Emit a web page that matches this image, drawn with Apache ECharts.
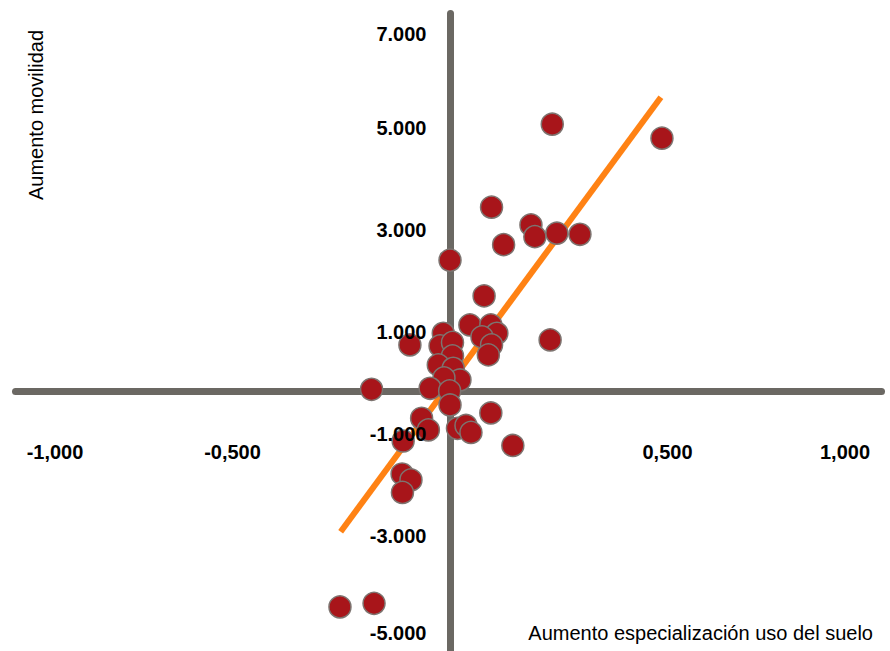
<!DOCTYPE html>
<html>
<head>
<meta charset="utf-8">
<script src="https://cdn.jsdelivr.net/npm/echarts@6/dist/echarts.min.js"></script>
<style>
  html, body { margin: 0; padding: 0; background: #ffffff; }
  #chart { width: 890px; height: 651px; }
</style>
</head>
<body>
<div id="chart"></div>
<script>
// Data
const xValues = [0.288, 0.597, 0.117, 0.228, 0.239, 0.301, 0.366, 0.151, 0.000, 0.096,
                 0.056, 0.115, 0.132, 0.090, 0.117, 0.108, -0.113, 0.282, -0.019, -0.028,
                 0.007, 0.007, -0.033, 0.009, 0.028, -0.017, -0.056, -0.001, 0.000, -0.221,
                 0.115, -0.080, -0.061, 0.021, 0.045, 0.059, 0.177, -0.132, -0.135, -0.110,
                 -0.134, -0.310, -0.214];
const yValues = [5.239, 4.965, 3.612, 3.265, 3.035, 3.102, 3.082, 2.878, 2.573, 1.873,
                 1.304, 1.304, 1.141, 1.069, 0.912, 0.716, 0.912, 1.010, 1.141, 0.892,
                 0.961, 0.696, 0.520, 0.455, 0.225, 0.265, 0.063, 0.010, -0.265, 0.043,
                 -0.422, -0.525, -0.755, -0.722, -0.667, -0.804, -1.059, -0.971, -1.618, -1.735,
                 -1.980, -4.225, -4.153];
const trendX = [-0.308, 0.594];
const trendY = [-2.749, 5.769];
const xTickValues = [-1, -0.5, 0.5, 1];
const yTickValues = [-5, -3, -1, 1, 3, 5, 7];
const xTitle = 'Aumento especialización uso del suelo';
const yTitle = 'Aumento movilidad';

const scatterData = xValues.map((x, i) => [x, yValues[i]]);
const trendData = trendX.map((x, i) => [x, trendY[i]]);

const FONT = "'Liberation Sans', Arial, sans-serif";
const AXIS_COLOR = '#6b6863';
const LABEL_SIZE = 20;

const GRID = { left: 15.5, right: 8.5, top: 13.5, bottom: 0 };

const chart = echarts.init(document.getElementById('chart'), null, { renderer: 'svg' });

const yAxisBase = {
  type: 'value',
  min: -5.088,
  max: 7.41,
  splitLine: { show: false },
  axisTick: { show: false }
};

const boldText = { fontFamily: FONT, fontWeight: 'bold', fontSize: LABEL_SIZE, color: '#000' };

chart.setOption({
  backgroundColor: '#ffffff',
  animation: false,
  grid: Object.assign({ containLabel: false, outerBoundsMode: 'none' }, GRID),
  xAxis: {
    type: 'value',
    min: -1.224,
    max: 1.2155,
    splitLine: { show: false },
    axisTick: { show: false },
    axisLine: { onZero: true, lineStyle: { color: AXIS_COLOR, width: 7, cap: 'round' } },
    axisLabel: Object.assign({}, boldText, {
      customValues: xTickValues,
      margin: -209,
      formatter: function (v) {
        const t = v.toFixed(3).replace('.', ',');
        return v < 0 ? '{n|' + t + '}' : '{p|' + t + '}';
      },
      rich: {
        n: Object.assign({ padding: [0, 80, 0, 0] }, boldText),
        p: Object.assign({ padding: [0, 0, 0, 80] }, boldText)
      }
    })
  },
  yAxis: [
    Object.assign({}, yAxisBase, {
      z: 0,
      axisLine: { onZero: true, lineStyle: { color: AXIS_COLOR, width: 7, cap: 'round' } },
      axisLabel: { show: false }
    }),
    Object.assign({}, yAxisBase, {
      position: 'left',
      z: 10,
      axisLine: { show: false },
      axisLabel: Object.assign({}, boldText, {
        customValues: yTickValues,
        margin: -411,
        formatter: function (v) {
          const t = v.toFixed(3);
          if (v === 7) return '{t|' + t + '}';
          if (v === -5) return '{b|' + t + '}';
          return '{m|' + t + '}';
        },
        rich: {
          t: Object.assign({ padding: [0, 0, 0, 0] }, boldText),
          m: Object.assign({ padding: [0, 0, 16, 0] }, boldText),
          b: Object.assign({ padding: [0, 0, 27, 0] }, boldText)
        }
      })
    })
  ],
  graphic: [
    {
      type: 'text',
      x: 36,
      y: 115,
      rotation: Math.PI / 2,
      style: {
        text: yTitle,
        fill: '#000',
        font: "20px " + FONT,
        align: 'center',
        verticalAlign: 'middle'
      }
    },
    {
      type: 'text',
      x: 873,
      y: 633,
      style: {
        text: xTitle,
        fill: '#000',
        font: "20px " + FONT,
        align: 'right',
        verticalAlign: 'middle'
      }
    }
  ],
  series: [
    {
      type: 'line',
      data: trendData,
      yAxisIndex: 0,
      z: 1,
      showSymbol: false,
      symbol: 'none',
      silent: true,
      lineStyle: { color: '#ff8214', width: 6, cap: 'butt' }
    },
    {
      type: 'scatter',
      data: scatterData,
      yAxisIndex: 0,
      z: 3,
      symbol: 'circle',
      symbolSize: 22,
      itemStyle: { color: '#a8151a', borderColor: '#7d7470', borderWidth: 1.5, opacity: 1 }
    }
  ]
});
</script>
</body>
</html>
